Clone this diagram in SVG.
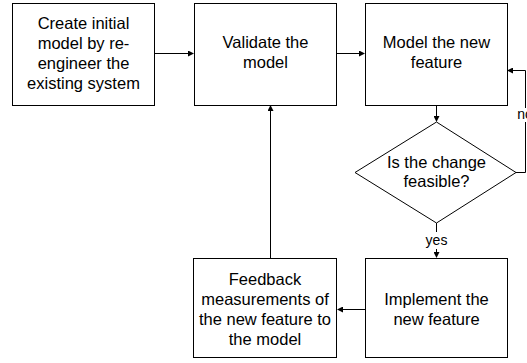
<svg xmlns="http://www.w3.org/2000/svg" width="527" height="363" viewBox="0 0 527 363">
<defs>
<marker id="arr" markerWidth="6" markerHeight="6" refX="5" refY="3" orient="auto" markerUnits="userSpaceOnUse">
<path d="M0,0 L6,3 L0,6 Z" fill="#000"/>
</marker>
<style>
.box{fill:#fff;stroke:#000;stroke-width:1}
.t{font-family:"Liberation Sans",Arial,sans-serif;font-size:16.5px;fill:#000;text-anchor:middle}
.lbl{font-family:"Liberation Sans",Arial,sans-serif;font-size:14px;fill:#000;text-anchor:middle}
.c{fill:none;stroke:#000;stroke-width:1}
</style>
</defs>
<rect width="527" height="363" fill="#fff"/>
<g id="connectors">
<line class="c" x1="154" y1="53.5" x2="193" y2="53.5" marker-end="url(#arr)"/>
<line class="c" x1="337" y1="53.5" x2="364" y2="53.5" marker-end="url(#arr)"/>
<line class="c" x1="436.5" y1="105" x2="436.5" y2="121" marker-end="url(#arr)"/>
<polyline class="c" points="516,172.5 525.5,172.5 525.5,70.5 508,70.5" marker-end="url(#arr)"/>
<rect x="516" y="108" width="11" height="14" fill="#fff"/>
<text class="lbl" x="525" y="119">no</text>
<line class="c" x1="436.5" y1="223" x2="436.5" y2="232"/>
<text class="lbl" x="436.5" y="245">yes</text>
<line class="c" x1="436.5" y1="249" x2="436.5" y2="257" marker-end="url(#arr)"/>
<line class="c" x1="365" y1="309.5" x2="338" y2="309.5" marker-end="url(#arr)"/>
<line class="c" x1="270.5" y1="258" x2="270.5" y2="106" marker-end="url(#arr)"/>
</g>
<g id="n1">
<rect class="box" x="12.5" y="3.5" width="142" height="102"/>
<text class="t" x="83.5" y="29">Create initial</text>
<text class="t" x="83.5" y="49">model by re-</text>
<text class="t" x="83.5" y="69">engineer the</text>
<text class="t" x="83.5" y="89">existing system</text>
</g>
<g id="n2">
<rect class="box" x="194.5" y="3.5" width="142" height="102"/>
<text class="t" x="265.5" y="48">Validate the</text>
<text class="t" x="265.5" y="68">model</text>
</g>
<g id="n3">
<rect class="box" x="365.5" y="3.5" width="142" height="102"/>
<text class="t" x="436.5" y="48">Model the new</text>
<text class="t" x="436.5" y="68">feature</text>
</g>
<g id="n4">
<polygon class="box" points="436.5,122 516,172.5 436.5,223 355,172.5"/>
<text class="t" x="436.5" y="168">Is the change</text>
<text class="t" x="436.5" y="187">feasible?</text>
</g>
<g id="n5">
<rect class="box" x="365.5" y="258.5" width="142" height="99"/>
<text class="t" x="436.5" y="305">Implement the</text>
<text class="t" x="436.5" y="325">new feature</text>
</g>
<g id="n6">
<rect class="box" x="193.5" y="258.5" width="143" height="99"/>
<text class="t" x="265" y="285">Feedback</text>
<text class="t" x="265" y="305">measurements of</text>
<text class="t" x="265" y="325">the new feature to</text>
<text class="t" x="265" y="345">the model</text>
</g>
</svg>
